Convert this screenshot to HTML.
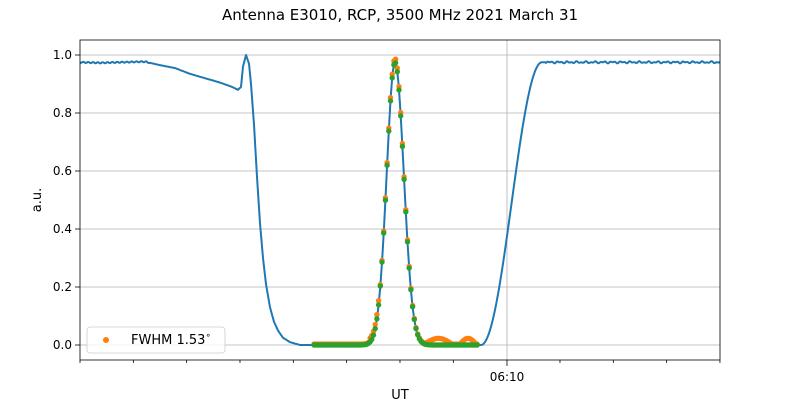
<!DOCTYPE html>
<html><head><meta charset="utf-8"><style>
html,body{margin:0;padding:0;background:#fff;}
svg text{font-family:"DejaVu Sans","Liberation Sans",sans-serif;fill:#000;}
</style></head><body>
<svg id="s" width="800" height="400" viewBox="0 0 800 400" xmlns="http://www.w3.org/2000/svg">
<rect width="800" height="400" fill="#fff"/>
<text x="400" y="20" font-size="15" text-anchor="middle">Antenna E3010, RCP, 3500 MHz 2021 March 31</text>
<g stroke="#b0b0b0" stroke-width="0.8">
<line x1="80" x2="720" y1="345" y2="345"/><line x1="80" x2="720" y1="287" y2="287"/>
<line x1="80" x2="720" y1="229" y2="229"/><line x1="80" x2="720" y1="171" y2="171"/>
<line x1="80" x2="720" y1="113" y2="113"/><line x1="80" x2="720" y1="55" y2="55"/>
<line x1="507" x2="507" y1="40" y2="360"/>
</g>
<g id="data"></g>
<rect x="80" y="40" width="640" height="320" fill="none" stroke="#000" stroke-width="0.8"/>
<g stroke="#000" stroke-width="0.8" id="ticks">
<line x1="75" x2="80" y1="345" y2="345"/><line x1="75" x2="80" y1="287" y2="287"/>
<line x1="75" x2="80" y1="229" y2="229"/><line x1="75" x2="80" y1="171" y2="171"/>
<line x1="75" x2="80" y1="113" y2="113"/><line x1="75" x2="80" y1="55" y2="55"/>
<line x1="507" x2="507" y1="360" y2="366"/>
</g>
<g font-size="12" text-anchor="end">
<text x="72" y="349">0.0</text><text x="72" y="291">0.2</text><text x="72" y="233">0.4</text>
<text x="72" y="175">0.6</text><text x="72" y="117">0.8</text><text x="72" y="59">1.0</text>
</g>
<text x="507" y="381" font-size="12" text-anchor="middle">06:10</text>
<text x="400" y="399" font-size="13" text-anchor="middle">UT</text>
<text transform="translate(41,200) rotate(-90)" font-size="13" text-anchor="middle">a.u.</text>
<rect x="87" y="327" width="138" height="26" rx="3" fill="#fff" fill-opacity="0.8" stroke="#ccc" stroke-width="0.8"/>
<circle cx="106" cy="340" r="3" fill="#ff7f0e"/>
<text x="131" y="344" font-size="13">FWHM 1.53<tspan font-size="9" dy="-6">∘</tspan></text>
</svg>
<script>
var Y=function(v){return 345-290*v;};
var g=document.getElementById('data'),ns='http://www.w3.org/2000/svg';
var t=document.getElementById('ticks');
for(var x=80;x<=721;x+=53.33){if(Math.abs(x-507)<3)continue;var l=document.createElementNS(ns,'line');l.setAttribute('x1',x);l.setAttribute('x2',x);l.setAttribute('y1',360);l.setAttribute('y2',363);t.appendChild(l);}
function peak(x){var c=395,s=x<c?8.3:8.8;return 0.975*Math.exp(-0.5*Math.pow((x-c)/s,2));}
var kp=[[80,.975],[100,.973],[120,.975],[145,.977],[160,.965],[175,.955],[190,.935],[205,.92],[220,.905],[232,.89],[238,.88],[241,.89],[243,.96],[246,1.0],[249,.97],[251,.9],[254,.76],[257,.58],[260,.42],[263,.3],[266,.21],[270,.13],[274,.08],[278,.05],[283,.025],[290,.01],[300,0]];
function base(x){
 if(x<=300){for(var i=0;i<kp.length-1;i++){if(x>=kp[i][0]&&x<=kp[i+1][0]){var f=(x-kp[i][0])/(kp[i+1][0]-kp[i][0]);return kp[i][1]+f*(kp[i+1][1]-kp[i][1]);}}}
 if(x<480)return peak(x);
 if(x<=545){var f=(x-481)/(542-481);f=Math.max(0,Math.min(1,f));return 0.975*(0.5-0.5*Math.cos(Math.PI*f));}
 return 0.975+0.002*Math.sin(x*0.7);
}
var d='';for(var x=80;x<=720;x+=1){var v=base(x)+(x<150||x>545?0.002*Math.sin(x*1.3):0);d+=(x==80?'M':'L')+x+','+Y(v).toFixed(1);}
var p=document.createElementNS(ns,'path');p.setAttribute('d',d);p.setAttribute('fill','none');p.setAttribute('stroke','#1f77b4');p.setAttribute('stroke-width','2');p.setAttribute('stroke-linejoin','round');g.appendChild(p);
function dot(x,v,c){var e=document.createElementNS(ns,'circle');e.setAttribute('cx',x.toFixed(1));e.setAttribute('cy',Y(v).toFixed(1));e.setAttribute('r',2.7);e.setAttribute('fill',c);g.appendChild(e);}
var xs=[];for(var x=314;x<=478;x+=1.7)xs.push(x);
xs.forEach(function(x){var v=peak(x);var b=0;if(x>425&&x<452)b=0.02*Math.sin(Math.PI*(x-425)/27);if(x>460&&x<476)b=0.02*Math.sin(Math.PI*(x-460)/16);if(x>370&&x<380)b+=0.01;dot(x,v*1.01+b+0.003,'#ff7f0e');});
xs.forEach(function(x){dot(x,peak(x),'#2ca02c');});
</script>
</body></html>
